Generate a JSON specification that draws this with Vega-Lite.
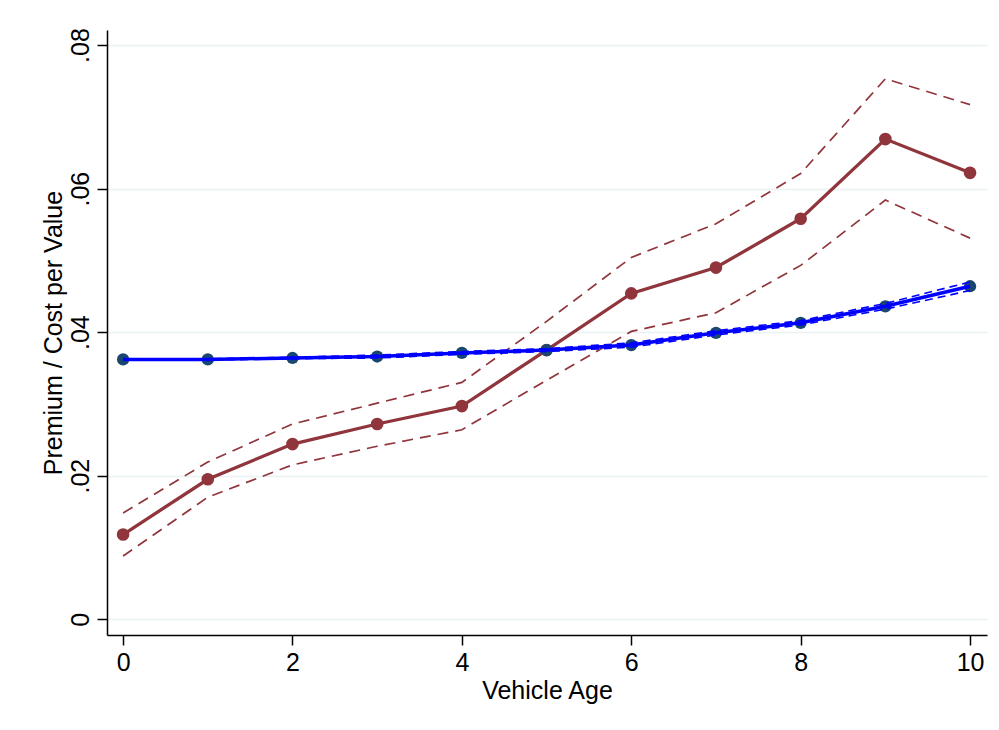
{
  "$schema": "https://vega.github.io/schema/vega-lite/v6.json",
  "width": 880,
  "height": 605,
  "autosize": {"type": "none"},
  "padding": {"left": 107, "top": 30, "right": 12, "bottom": 95},
  "background": "white",
  "config": {
    "view": {"stroke": null},
    "font": "Liberation Sans",
    "axis": {
      "labelFont": "Liberation Sans",
      "titleFont": "Liberation Sans",
      "labelFontSize": 25,
      "titleFontSize": 25,
      "titleFontWeight": "normal",
      "labelColor": "black",
      "titleColor": "black",
      "domainColor": "black",
      "domainWidth": 1.5,
      "tickColor": "black",
      "tickWidth": 1.5,
      "tickSize": 10
    }
  },
  "data": {
    "values": [
      {"x": 0, "s": "A", "m": 0.0118, "lo": 0.0088, "hi": 0.0148},
      {"x": 1, "s": "A", "m": 0.0195, "lo": 0.0170, "hi": 0.0219},
      {"x": 2, "s": "A", "m": 0.0244, "lo": 0.0215, "hi": 0.0272},
      {"x": 3, "s": "A", "m": 0.0272, "lo": 0.0241, "hi": 0.0301},
      {"x": 4, "s": "A", "m": 0.0297, "lo": 0.0264, "hi": 0.0330},
      {"x": 5, "s": "A", "m": 0.0375, "lo": 0.0333, "hi": 0.0415},
      {"x": 6, "s": "A", "m": 0.0454, "lo": 0.0401, "hi": 0.0504},
      {"x": 7, "s": "A", "m": 0.0490, "lo": 0.0427, "hi": 0.0551},
      {"x": 8, "s": "A", "m": 0.0558, "lo": 0.0493, "hi": 0.0621},
      {"x": 9, "s": "A", "m": 0.0669, "lo": 0.0584, "hi": 0.0753},
      {"x": 10, "s": "A", "m": 0.0622, "lo": 0.0531, "hi": 0.0717},
      {"x": 0, "s": "B", "m": 0.0362, "lo": 0.0361, "hi": 0.0363},
      {"x": 1, "s": "B", "m": 0.0362, "lo": 0.0361, "hi": 0.0363},
      {"x": 2, "s": "B", "m": 0.0364, "lo": 0.0363, "hi": 0.0365},
      {"x": 3, "s": "B", "m": 0.0366, "lo": 0.0364, "hi": 0.0368},
      {"x": 4, "s": "B", "m": 0.0371, "lo": 0.0369, "hi": 0.0373},
      {"x": 5, "s": "B", "m": 0.0375, "lo": 0.0373, "hi": 0.0377},
      {"x": 6, "s": "B", "m": 0.0382, "lo": 0.0379, "hi": 0.0385},
      {"x": 7, "s": "B", "m": 0.0399, "lo": 0.0396, "hi": 0.0402},
      {"x": 8, "s": "B", "m": 0.0413, "lo": 0.0410, "hi": 0.0416},
      {"x": 9, "s": "B", "m": 0.0436, "lo": 0.0432, "hi": 0.0440},
      {"x": 10, "s": "B", "m": 0.0464, "lo": 0.0458, "hi": 0.0470}
    ]
  },
  "encoding": {
    "x": {
      "field": "x",
      "type": "quantitative",
      "scale": {"domain": [-0.19, 10.2], "nice": false, "zero": false},
      "axis": {
        "values": [0, 2, 4, 6, 8, 10],
        "grid": false,
        "title": "Vehicle Age",
        "labelPadding": 5,
        "titlePadding": 3
      }
    }
  },
  "layer": [
    {
      "mark": {"type": "line", "strokeWidth": 1.7, "strokeDash": [11, 7], "color": "#90353b"},
      "transform": [{"filter": "datum.s == 'A'"}],
      "encoding": {
        "y": {
          "field": "hi",
          "type": "quantitative",
          "scale": {"domain": [-0.0022, 0.0821], "nice": false, "zero": false},
          "axis": {
            "values": [0, 0.02, 0.04, 0.06, 0.08],
            "labelExpr": "datum.value == 0 ? '0' : replace(format(datum.value, '.2f'), '0.', '.')",
            "labelAngle": -90,
            "labelAlign": "center",
            "labelBaseline": "bottom",
            "labelPadding": 4,
            "grid": true,
            "gridColor": "#eaf2f3",
            "gridWidth": 1.5,
            "title": "Premium / Cost per Value",
            "titlePadding": 2
          }
        }
      }
    },
    {
      "mark": {"type": "line", "strokeWidth": 1.7, "strokeDash": [11, 7], "color": "#90353b"},
      "transform": [{"filter": "datum.s == 'A'"}],
      "encoding": {"y": {"field": "lo", "type": "quantitative"}}
    },
    {
      "mark": {"type": "line", "strokeWidth": 3.3, "color": "#90353b"},
      "transform": [{"filter": "datum.s == 'A'"}],
      "encoding": {"y": {"field": "m", "type": "quantitative"}}
    },
    {
      "mark": {"type": "point", "filled": true, "shape": "circle", "size": 160, "opacity": 1, "color": "#90353b"},
      "transform": [{"filter": "datum.s == 'A'"}],
      "encoding": {"y": {"field": "m", "type": "quantitative"}}
    },
    {
      "mark": {"type": "point", "filled": true, "shape": "circle", "size": 150, "opacity": 1, "color": "#1a476f"},
      "transform": [{"filter": "datum.s == 'B'"}],
      "encoding": {"y": {"field": "m", "type": "quantitative"}}
    },
    {
      "mark": {"type": "line", "strokeWidth": 1.6, "strokeDash": [8, 5], "color": "#0000ff"},
      "transform": [{"filter": "datum.s == 'B'"}],
      "encoding": {"y": {"field": "hi", "type": "quantitative"}}
    },
    {
      "mark": {"type": "line", "strokeWidth": 1.6, "strokeDash": [8, 5], "color": "#0000ff"},
      "transform": [{"filter": "datum.s == 'B'"}],
      "encoding": {"y": {"field": "lo", "type": "quantitative"}}
    },
    {
      "mark": {"type": "line", "strokeWidth": 3.5, "color": "#0000ff"},
      "transform": [{"filter": "datum.s == 'B'"}],
      "encoding": {"y": {"field": "m", "type": "quantitative"}}
    }
  ]
}
